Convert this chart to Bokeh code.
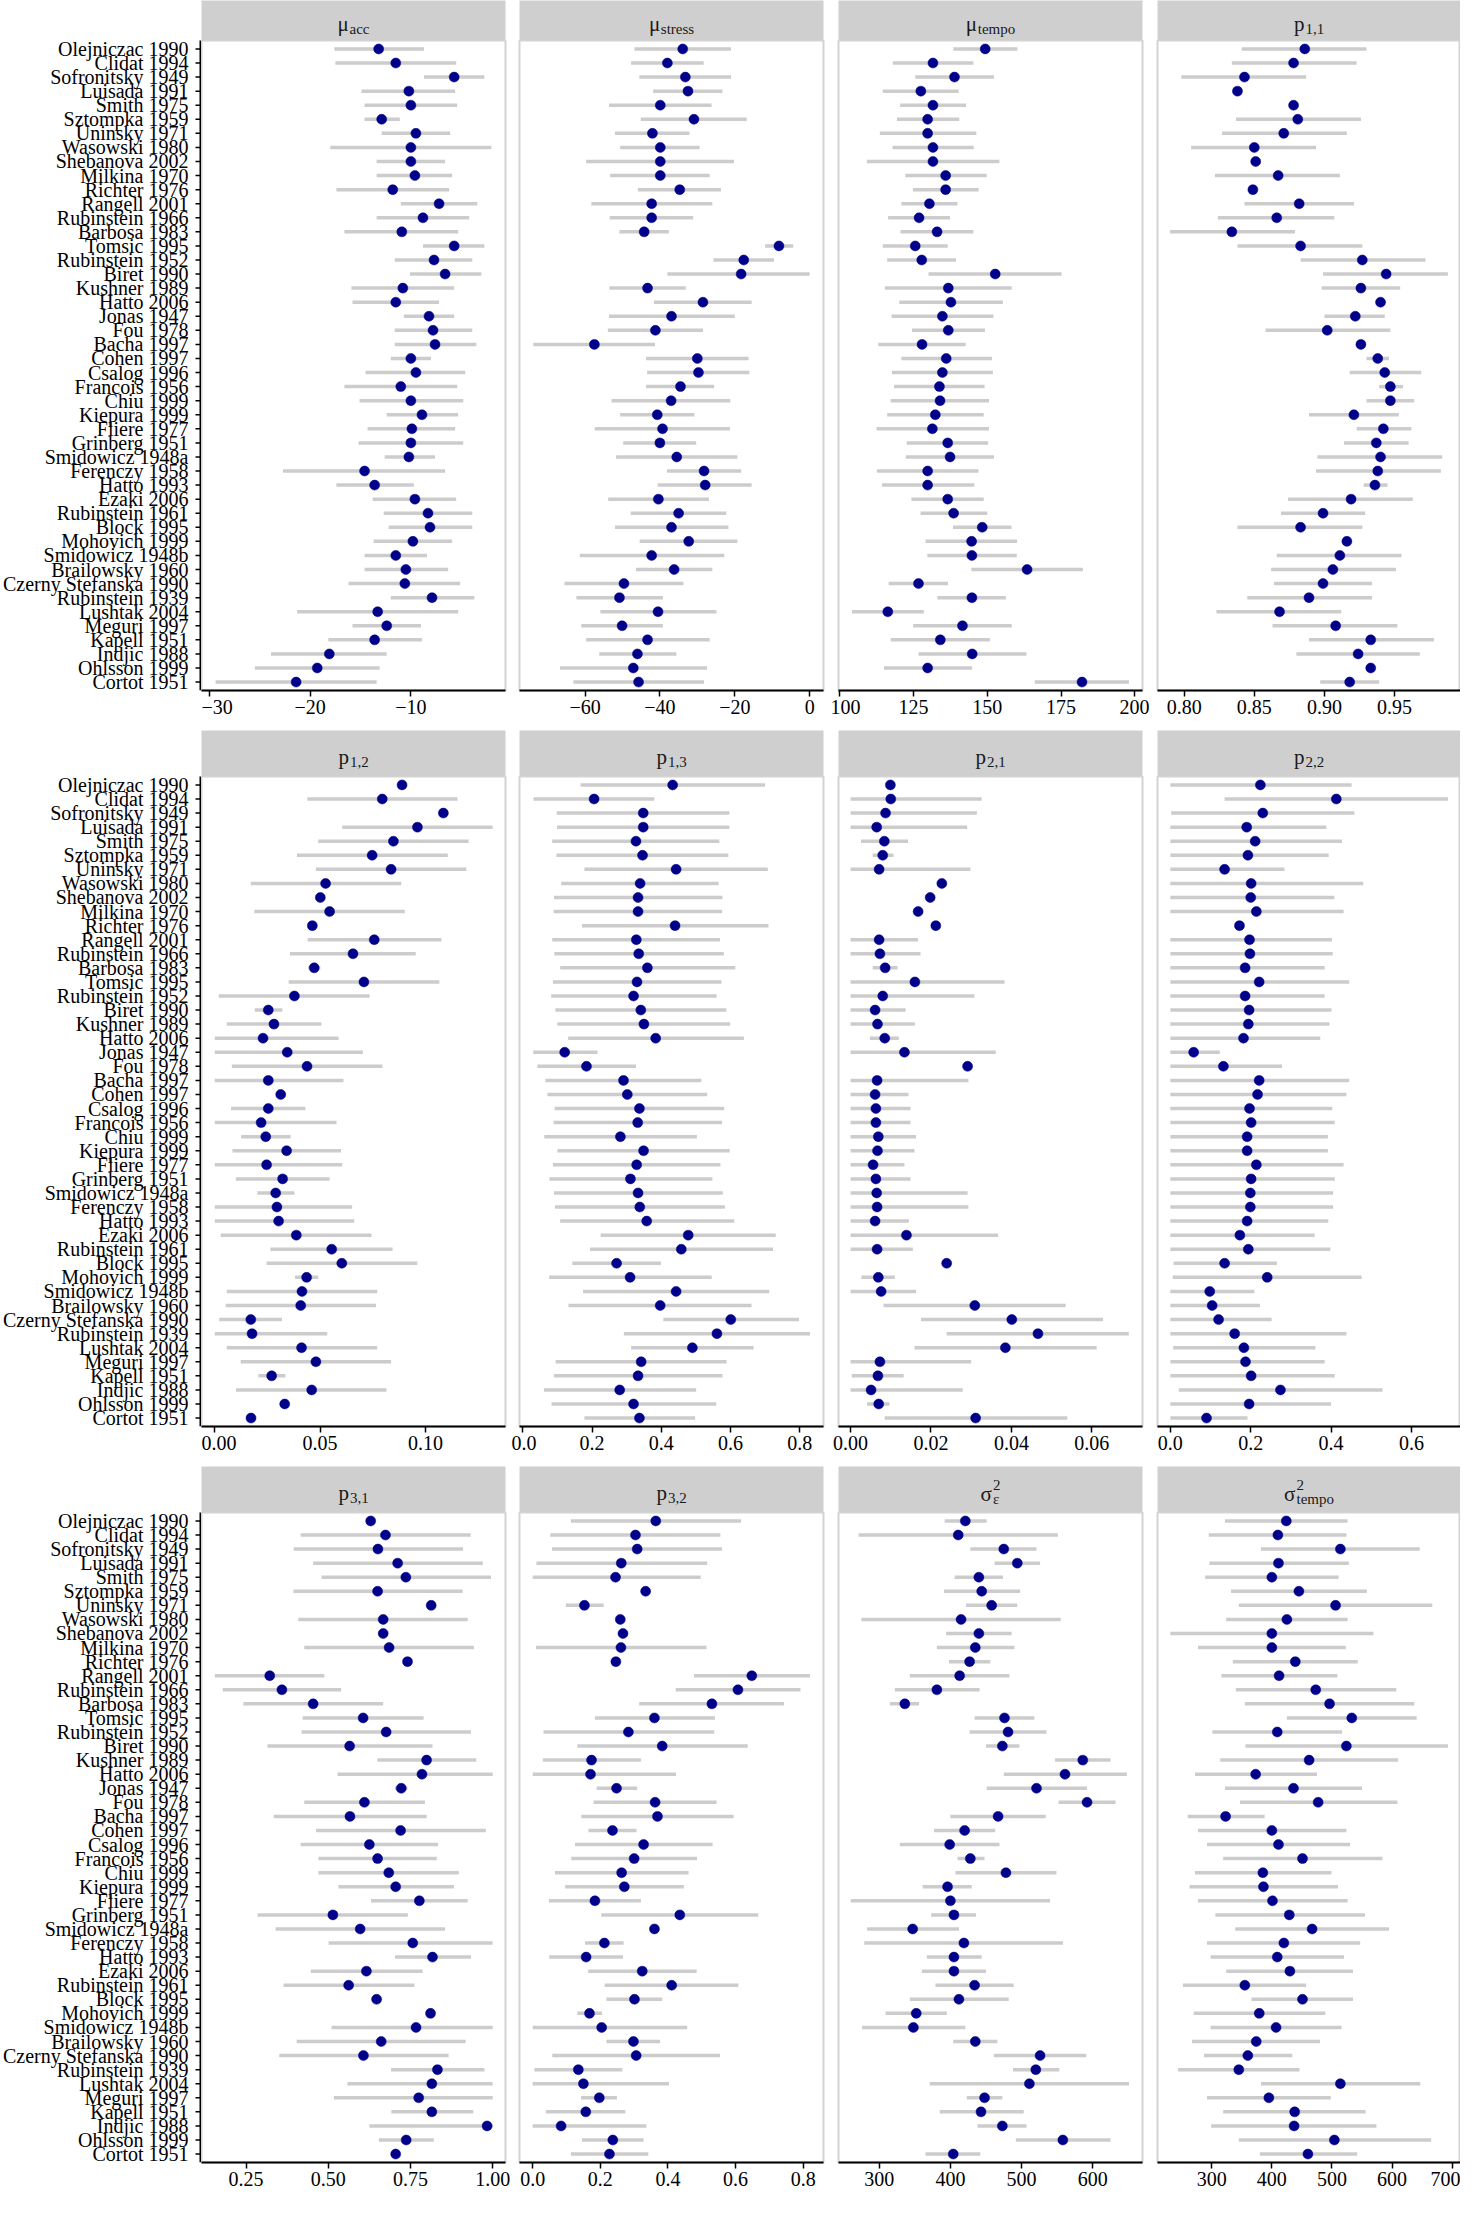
import numpy as np
from bokeh.plotting import figure
from bokeh.layouts import row, column
from bokeh.models import Range1d, FixedTicker, ColumnDataSource
from bokeh.core.properties import value
from bokeh.embed import file_html
from bokeh.resources import INLINE

performers = ["Olejniczac 1990", "Clidat 1994", "Sofronitsky 1949", "Luisada 1991", "Smith 1975",
              "Sztompka 1959", "Uninsky 1971", "Wasowski 1980", "Shebanova 2002", "Milkina 1970",
              "Richter 1976", "Rangell 2001", "Rubinstein 1966", "Barbosa 1983", "Tomsic 1995",
              "Rubinstein 1952", "Biret 1990", "Kushner 1989", "Hatto 2006", "Jonas 1947",
              "Fou 1978", "Bacha 1997", "Cohen 1997", "Csalog 1996", "Francois 1956",
              "Chiu 1999", "Kiepura 1999", "Fliere 1977", "Grinberg 1951", "Smidowicz 1948a",
              "Ferenczy 1958", "Hatto 1993", "Ezaki 2006", "Rubinstein 1961", "Block 1995",
              "Mohovich 1999", "Smidowicz 1948b", "Brailowsky 1960", "Czerny Stefanska 1990", "Rubinstein 1939",
              "Lushtak 2004", "Meguri 1997", "Kapell 1951", "Indjic 1988", "Ohlsson 1999", "Cortot 1951"]

# ---- mu_acc
mu_acc = [-13.2,-11.5,-5.7,-10.2,-10.0,-12.9,-9.5,-10.0,-10.0,-9.6,-11.8,-7.2,-8.8,-10.9,-5.7,-7.7,-6.6,-10.8,-11.5,-8.2,-7.8,-7.6,-10.0,-9.5,-11.0,-10.0,-8.9,-9.9,-10.0,-10.2,-14.6,-13.6,-9.6,-8.3,-8.1,-9.8,-11.5,-10.5,-10.6,-7.9,-13.3,-12.4,-13.6,-18.1,-19.3,-21.4]
mu_acc_lo = [-17.6,-17.5,-8.7,-14.9,-14.6,-14.6,-12.9,-18.0,-13.4,-13.4,-17.4,-11.0,-13.4,-16.6,-8.8,-11.6,-10.1,-15.9,-15.8,-10.7,-11.6,-11.6,-12.0,-14.5,-16.6,-15.1,-12.4,-14.3,-15.2,-12.6,-22.7,-17.4,-13.8,-12.7,-12.2,-13.7,-14.6,-14.6,-16.2,-12.0,-21.3,-15.8,-18.2,-23.9,-25.5,-29.4]
mu_acc_hi = [-8.7,-5.5,-2.7,-5.6,-5.4,-11.1,-6.1,-2.0,-6.6,-5.9,-6.2,-3.4,-4.2,-5.3,-2.7,-3.9,-3.0,-5.7,-7.2,-5.7,-3.9,-3.5,-8.0,-4.6,-5.4,-4.8,-5.3,-5.6,-4.8,-7.6,-6.6,-9.7,-5.5,-3.9,-3.9,-5.9,-8.4,-6.3,-5.1,-3.7,-5.3,-9.0,-8.9,-12.4,-13.1,-13.4]

# ---- mu_stress
mu_stress = [-33.9,-38.0,-33.2,-32.5,-39.9,-30.9,-42.0,-39.9,-39.9,-39.9,-34.7,-42.2,-42.2,-44.2,-8.2,-17.6,-18.3,-43.3,-28.5,-36.9,-41.2,-57.5,-30.0,-29.7,-34.5,-37.0,-40.7,-39.3,-40.0,-35.5,-28.2,-27.9,-40.4,-35.0,-36.9,-32.3,-42.2,-36.2,-49.6,-50.8,-40.5,-50.1,-43.3,-46.0,-47.1,-45.7]
mu_stress_lo = [-46.8,-47.7,-45.5,-41.8,-53.6,-45.1,-52.0,-50.6,-59.7,-53.3,-45.9,-58.3,-53.4,-50.8,-11.9,-25.7,-38.0,-53.5,-41.6,-53.6,-53.9,-73.8,-43.7,-43.4,-43.7,-52.9,-50.6,-57.4,-49.8,-51.7,-38.1,-40.6,-53.8,-47.8,-52.0,-45.4,-61.4,-46.4,-65.5,-62.3,-55.9,-61.0,-59.7,-56.2,-66.7,-63.1]
mu_stress_hi = [-21.0,-28.3,-21.0,-23.3,-26.2,-16.8,-32.1,-29.4,-20.2,-26.7,-23.7,-26.0,-31.1,-37.6,-4.4,-9.5,0.0,-33.1,-15.5,-20.0,-28.5,-41.3,-16.3,-16.1,-25.5,-21.2,-30.8,-21.3,-30.3,-19.3,-18.3,-15.5,-26.9,-22.3,-21.7,-19.3,-22.8,-26.0,-33.7,-39.2,-24.9,-39.2,-26.7,-35.6,-27.4,-28.2]

# ---- mu_tempo
mu_tempo = [149.3,131.6,138.9,127.5,131.6,129.8,129.8,131.6,131.6,135.9,135.9,130.4,126.9,133.0,125.6,127.8,152.7,136.8,137.7,134.8,136.8,127.9,136.1,134.8,133.8,134.0,132.4,131.4,136.6,137.4,129.8,129.8,136.6,138.6,148.3,144.7,144.8,163.5,126.7,144.8,116.3,141.6,134.1,144.9,129.8,182.1]
mu_tempo_lo = [138.5,118.0,125.6,114.6,120.5,119.4,113.6,117.9,109.2,122.2,124.8,120.9,116.4,120.6,114.6,116.1,130.1,115.3,120.2,117.6,124.5,113.1,120.9,117.7,118.4,117.3,116.1,112.5,122.7,122.4,112.6,114.3,124.3,127.4,138.4,129.1,129.7,144.6,116.6,133.1,104.2,124.9,117.3,126.7,115.0,166.1]
mu_tempo_hi = [160.2,145.3,152.3,140.3,142.8,140.5,146.3,145.4,154.1,149.8,147.1,139.9,137.4,145.3,136.6,139.4,175.2,158.3,155.3,152.1,149.2,142.7,151.6,151.9,149.1,150.6,148.8,150.6,150.3,152.3,147.0,145.6,148.8,150.0,158.2,160.1,160.0,182.4,136.7,156.3,128.5,158.3,150.9,163.3,144.9,198.0]

# ---- p11
p11 = [0.886,0.878,0.843,0.838,0.878,0.881,0.871,0.850,0.851,0.867,0.849,0.882,0.866,0.834,0.883,0.927,0.944,0.926,0.940,0.922,0.902,0.926,0.938,0.943,0.947,0.947,0.921,0.942,0.937,0.940,0.938,0.936,0.919,0.899,0.883,0.916,0.911,0.906,0.899,0.889,0.868,0.908,0.933,0.924,0.933,0.918]
p11_lo = [0.841,0.834,0.798,None,None,0.837,0.827,0.805,None,0.822,None,0.843,0.824,0.790,0.838,0.883,0.899,0.898,None,0.900,0.858,None,0.930,0.918,0.939,0.930,0.889,0.923,0.914,0.895,0.894,0.928,0.874,0.869,0.838,None,0.866,0.862,0.864,0.845,0.823,0.863,0.889,0.880,None,0.897]
p11_hi = [0.930,0.923,0.887,None,None,0.926,0.916,0.894,None,0.911,None,0.921,0.907,0.879,0.927,0.972,0.988,0.954,None,0.943,0.947,None,0.946,0.969,0.956,0.964,0.953,0.962,0.960,0.984,0.983,0.945,0.963,0.929,0.927,None,0.955,0.951,0.934,0.934,0.912,0.952,0.978,0.968,None,0.939]

# ---- p12
p12 = [0.0889,0.0795,0.1085,0.0962,0.0848,0.0747,0.0837,0.0526,0.0501,0.0545,0.0463,0.0757,0.0656,0.0472,0.0708,0.0378,0.0254,0.0281,0.0229,0.0344,0.0438,0.0254,0.0313,0.0254,0.0220,0.0242,0.0341,0.0246,0.0322,0.0289,0.0295,0.0303,0.0387,0.0555,0.0603,0.0436,0.0414,0.0408,0.0171,0.0177,0.0412,0.0480,0.0270,0.0460,0.0332,0.0172]
p12_lo = [None,0.0439,None,0.0605,0.0491,0.0390,0.0480,0.0171,None,0.0188,None,0.0441,0.0357,0.0444,0.0351,0.0019,0.0190,0.0057,0.0,0.0,0.0081,0.0,None,0.0077,0.0,0.0125,0.0084,0.0,0.0100,0.0202,0.0,0.0,0.0028,0.0264,0.0246,0.0381,0.0057,0.0052,0.0021,0.0,0.0057,0.0123,0.0207,0.0101,None,0.0148]
p12_hi = [None,0.1152,None,0.1319,0.1205,0.1106,0.1194,0.0885,None,0.0902,None,0.1076,0.0954,0.0501,0.1066,0.0735,0.0321,0.0506,0.0588,0.0703,0.0796,0.0611,None,0.0430,0.0578,0.0360,0.0599,0.0605,0.0545,0.0378,0.0652,0.0662,0.0744,0.0844,0.0961,0.0491,0.0771,0.0765,0.0319,0.0534,0.0771,0.0837,0.0335,0.0815,None,0.0196]

# ---- p13
p13 = [0.433,0.206,0.348,0.348,0.327,0.346,0.443,0.339,0.333,0.333,0.440,0.328,0.335,0.360,0.330,0.320,0.341,0.350,0.384,0.121,0.184,0.291,0.302,0.337,0.332,0.282,0.349,0.329,0.311,0.333,0.338,0.358,0.478,0.458,0.271,0.310,0.443,0.397,0.601,0.561,0.490,0.342,0.333,0.280,0.320,0.337]
p13_lo = [0.167,0.031,0.098,0.099,0.085,0.097,0.178,0.111,0.090,0.089,0.171,0.085,0.091,0.108,0.087,0.082,0.094,0.100,0.131,0.030,0.042,0.065,0.071,0.092,0.089,0.062,0.100,0.087,0.077,0.090,0.093,0.108,0.225,0.194,0.143,0.076,0.174,0.132,0.406,0.292,0.313,0.095,0.090,0.061,0.083,0.178]
p13_hi = [0.700,0.380,0.597,0.597,0.568,0.594,0.708,0.566,0.577,0.576,0.710,0.570,0.581,0.614,0.574,0.560,0.588,0.599,0.639,0.216,0.327,0.516,0.533,0.582,0.576,0.503,0.598,0.571,0.548,0.578,0.584,0.611,0.731,0.723,0.399,0.546,0.712,0.661,0.798,0.830,0.667,0.589,0.577,0.501,0.559,0.498]

# ---- p21
p21 = [0.0099,0.0100,0.0087,0.0065,0.0084,0.0080,0.0071,0.0227,0.0198,0.0168,0.0212,0.0071,0.0073,0.0086,0.0160,0.0080,0.0061,0.0067,0.0085,0.0134,0.0291,0.0066,0.0061,0.0063,0.0063,0.0069,0.0067,0.0056,0.0063,0.0065,0.0066,0.0061,0.0139,0.0066,0.0239,0.0069,0.0076,0.0309,0.0401,0.0466,0.0385,0.0073,0.0068,0.0051,0.0070,0.0311]
p21_lo = [None,0,0,0,0.0026,0.0055,0,None,None,None,None,0,0,0.0055,0,0,0,0,0.0048,0,None,0,0,0,0,0,0,0,0,0,0,0,0,0,None,0.0027,0,0.0082,0.0175,0.0239,0.0159,0,0.0003,0,0.0041,0.0085]
p21_hi = [None,0.0326,0.0314,0.0290,0.0143,0.0107,0.0298,None,None,None,None,0.0168,0.0174,0.0117,0.0383,0.0308,0.0137,0.0160,0.0120,0.0361,None,0.0293,0.0144,0.0149,0.0149,0.0163,0.0159,0.0134,0.0149,0.0291,0.0293,0.0145,0.0367,0.0155,None,0.0110,0.0163,0.0535,0.0628,0.0692,0.0612,0.0300,0.0132,0.0279,0.0097,0.0539]

# ---- p22
p22 = [0.224,0.413,0.230,0.190,0.211,0.193,0.135,0.201,0.200,0.214,0.172,0.197,0.198,0.186,0.221,0.186,0.196,0.194,0.182,0.058,0.132,0.221,0.217,0.197,0.201,0.191,0.191,0.214,0.201,0.199,0.199,0.191,0.173,0.194,0.135,0.241,0.098,0.104,0.120,0.160,0.183,0.187,0.201,0.274,0.196,0.090]
p22_lo = [0,0.135,0.002,0,0,0,0,0,0,0,None,0,0,0,0,0,0,0,0,0,0,0,0,0,0,0,0,0,0,0,0,0,0,0,0.008,0.006,0,0,0,0,0.007,0,0,0.021,0,0]
p22_hi = [0.451,0.691,0.458,0.388,0.427,0.394,0.284,0.480,0.408,0.431,None,0.402,0.404,0.384,0.445,0.384,0.401,0.396,0.373,0.123,0.278,0.445,0.438,0.403,0.409,0.392,0.392,0.431,0.409,0.405,0.405,0.393,0.359,0.398,0.265,0.476,0.209,0.223,0.252,0.438,0.361,0.384,0.409,0.528,0.400,0.192]

# ---- p31
p31 = [0.629,0.674,0.651,0.711,0.736,0.650,0.813,0.667,0.667,0.685,0.741,0.322,0.359,0.454,0.606,0.676,0.565,0.799,0.785,0.722,0.610,0.566,0.720,0.625,0.650,0.684,0.705,0.777,0.514,0.597,0.757,0.817,0.616,0.562,0.647,0.811,0.767,0.661,0.607,0.832,0.815,0.775,0.815,0.983,0.737,0.705]
p31_lo = [None,0.416,0.395,0.454,0.480,0.394,None,0.409,None,0.427,None,0.155,0.179,0.242,0.422,0.419,0.315,0.649,0.528,0.703,0.427,0.334,0.463,0.416,0.470,0.470,0.531,0.630,0.285,0.340,0.501,0.703,0.447,0.364,None,None,0.510,0.404,0.351,0.691,0.558,0.517,0.692,0.625,0.654,None]
p31_hi = [None,0.933,0.910,0.970,0.995,0.909,None,0.924,None,0.943,None,0.488,0.539,0.667,0.790,0.934,0.817,0.950,1.0,0.741,0.794,0.799,0.979,0.834,0.830,0.897,0.882,0.924,0.742,0.855,1.0,0.934,0.787,0.762,None,None,1.0,0.918,0.866,0.975,1.0,1.0,0.941,1.0,0.821,None]

# ---- p32
p32 = [0.364,0.304,0.309,0.262,0.245,0.334,0.153,0.259,0.267,0.261,0.246,0.648,0.607,0.530,0.360,0.283,0.383,0.174,0.171,0.248,0.362,0.369,0.236,0.328,0.300,0.263,0.271,0.184,0.435,0.360,0.212,0.158,0.324,0.411,0.301,0.168,0.204,0.298,0.306,0.135,0.150,0.197,0.157,0.084,0.237,0.227]
p32_lo = [0.113,0.052,0.057,0.011,0.0,None,0.098,None,None,0.010,None,0.477,0.423,0.315,0.184,0.032,0.132,0.030,0.0,0.189,0.180,0.144,0.165,0.125,0.114,0.066,0.096,0.048,0.203,None,0.155,0.049,0.164,0.213,0.218,0.132,0.0,0.218,0.058,0.005,0.0,0.143,0.039,0.0,0.146,0.113]
p32_hi = [0.616,0.555,0.560,0.516,0.497,None,0.210,None,None,0.514,None,0.820,0.792,0.743,0.539,0.537,0.636,0.320,0.424,0.309,0.544,0.594,0.307,0.532,0.486,0.461,0.447,0.320,0.667,None,0.269,0.267,0.485,0.608,0.383,0.205,0.457,0.377,0.554,0.265,0.403,0.249,0.274,0.336,0.328,0.342]

# ---- sigma2_eps
s2_eps = [421,411,475,494,440,444,458,415,440,435,427,413,381,336,476,481,473,586,561,521,592,467,420,399,428,478,396,400,405,347,419,405,405,434,412,352,348,435,526,520,511,448,443,473,558,404]
s2_eps_lo = [392,271,428,462,406,391,422,275,394,381,398,343,322,315,434,427,450,547,475,451,552,400,377,329,410,407,361,260,373,283,279,367,360,379,343,309,276,404,461,488,371,423,385,438,492,365]
s2_eps_hi = [451,551,521,526,474,498,494,555,486,490,456,483,441,356,518,535,497,625,648,592,632,534,463,469,448,549,430,540,436,412,558,444,450,489,482,395,421,466,591,553,651,473,503,507,625,442]

# ---- sigma2_tempo
s2_tempo = [424,410,514,411,400,445,506,425,400,400,439,412,473,496,533,409,524,462,373,436,477,323,400,411,451,385,386,401,429,467,420,409,430,355,451,379,407,374,360,345,514,395,438,437,504,460]
s2_tempo_lo = [322,295,382,296,289,332,345,324,231,277,335,316,340,355,425,301,356,314,272,322,347,260,277,292,319,272,263,277,306,339,292,298,324,252,366,270,298,267,287,244,382,292,319,299,345,380]
s2_tempo_hi = [526,524,646,528,511,558,667,526,569,523,543,509,607,637,641,517,693,610,475,550,609,388,524,530,584,499,510,526,555,595,547,520,535,457,535,489,516,480,434,446,647,498,556,574,665,542]

# strip labels (main symbol, subscript, superscript)
strip_main = ["μ", "μ", "μ", "p", "p", "p", "p", "p", "p", "p", "σ", "σ"]
strip_sub = ["acc", "stress", "tempo", "1,1", "1,2", "1,3", "2,1", "2,2", "3,1", "3,2", "ε", "tempo"]
strip_sup = ["", "", "", "", "", "", "", "", "", "", "2", "2"]

# x-axis ticks and tick labels per panel
ticks = [[-30, -20, -10], [-60, -40, -20, 0], [100, 125, 150, 175, 200], [0.80, 0.85, 0.90, 0.95],
         [0.00, 0.05, 0.10], [0.0, 0.2, 0.4, 0.6, 0.8], [0.00, 0.02, 0.04, 0.06], [0.0, 0.2, 0.4, 0.6],
         [0.25, 0.50, 0.75, 1.00], [0.0, 0.2, 0.4, 0.6, 0.8], [300, 400, 500, 600], [300, 400, 500, 600, 700]]
tick_labels = [["\u221230", "\u221220", "\u221210"], ["\u221260", "\u221240", "\u221220", "0"],
               ["100", "125", "150", "175", "200"], ["0.80", "0.85", "0.90", "0.95"],
               ["0.00", "0.05", "0.10"], ["0.0", "0.2", "0.4", "0.6", "0.8"],
               ["0.00", "0.02", "0.04", "0.06"], ["0.0", "0.2", "0.4", "0.6"],
               ["0.25", "0.50", "0.75", "1.00"], ["0.0", "0.2", "0.4", "0.6", "0.8"],
               ["300", "400", "500", "600"], ["300", "400", "500", "600", "700"]]

series = [(mu_acc, mu_acc_lo, mu_acc_hi), (mu_stress, mu_stress_lo, mu_stress_hi),
          (mu_tempo, mu_tempo_lo, mu_tempo_hi), (p11, p11_lo, p11_hi),
          (p12, p12_lo, p12_hi), (p13, p13_lo, p13_hi), (p21, p21_lo, p21_hi), (p22, p22_lo, p22_hi),
          (p31, p31_lo, p31_hi), (p32, p32_lo, p32_hi), (s2_eps, s2_eps_lo, s2_eps_hi),
          (s2_tempo, s2_tempo_lo, s2_tempo_hi)]

# view ranges (layout)
XR = [(-30.8, -0.6), (-77.5, 3.7), (99.6, 202.6), (0.781, 0.997), (-0.0063, 0.138), (-0.0096, 0.869),
      (-0.003, 0.0726), (-0.032, 0.722), (0.1145, 1.039), (-0.039, 0.860), (242.8, 669.9), (209.7, 713.9)]

FONT = "Liberation Serif"
DOT = "#00008B"
BAR = "#CCCCCC"
STRIP = "#CFCFCF"
BORDER = "#D3D3D3"
N = len(performers)
PAD = 0.6
LABEL_W = 201
COLS = [(0, 304, 6), (8, 304, 7), (8, 304, 7), (8, 303, 0)]
ROWS = [(40, 650, 40), (46, 650, 40), (46, 650, 34)]  # strip h, frame h, bottom border

CW = {'a': .444, 'c': .444, 's': .389, 't': .278, 'r': .333, 'e': .444, 'm': .778, 'p': .5, 'o': .5,
      '1': .5, '2': .5, '3': .5, ',': .25, 'μ': .52, 'σ': .55, 'ε': .44}


def tw(s, size):
    return sum(CW.get(ch, .5) for ch in s) * size


def base_fig(w, h, xr, yr, L, R, bottom, yaxis=None, xaxis=None):
    p = figure(width=w, height=h, x_range=Range1d(*xr), y_range=Range1d(*yr),
               output_backend="svg", toolbar_location=None,
               x_axis_location=xaxis, y_axis_location=yaxis,
               min_border_left=L, min_border_right=R, min_border_top=0, min_border_bottom=bottom)
    p.grid.visible = False
    p.border_fill_color = "white"
    return p


def strip_fig(k, col, h):
    L, W, R = COLS[col]
    p = base_fig(L + W + R, h, (0, 1), (0, 1), L, R, 0)
    p.background_fill_color = STRIP
    p.outline_line_color = None
    main, sub, sup = strip_main[k], strip_sub[k], strip_sup[k]
    ms, ss = 21, 15
    w1 = tw(main, ms)
    w2 = max(tw(sub, ss), tw(sup, ss))
    x0 = -(w1 + 1 + w2) / 2
    base = 4 if sup else 3
    common = dict(text_align="left", text_baseline="alphabetic", text_font=value(FONT), text_color="#1A1A1A")
    p.text(x=[0.5], y=[0.5], text=[main], x_offset=x0, y_offset=base, text_font_size=f"{ms}px", **common)
    p.text(x=[0.5], y=[0.5], text=[sub], x_offset=x0 + w1 + 1, y_offset=base + 5,
           text_font_size=f"{ss}px", **common)
    if sup:
        p.text(x=[0.5], y=[0.5], text=[sup], x_offset=x0 + w1 + 1, y_offset=base - 9,
               text_font_size=f"{ss}px", **common)
    return p


def label_fig(strip_h, frame_h, bottom):
    # spans the strip and the panel frame so that labels are not cut at the top
    units_per_px = (N - 1 + 2 * PAD) / frame_h
    yr = (N - 1 + PAD, -PAD - strip_h * units_per_px)
    p = base_fig(LABEL_W, strip_h + frame_h + bottom, (0, LABEL_W), yr, 0, 0, bottom)
    p.outline_line_color = None
    ys = list(range(N))
    p.text(x=[LABEL_W - 13] * N, y=ys, text=performers, text_align="right",
           text_baseline="middle", text_font=value(FONT), text_font_size="20px", text_color="black")
    # y axis ticks and axis line of the first panel
    p.segment(x0=[LABEL_W - 6] * N, y0=ys, x1=[LABEL_W] * N, y1=ys, line_color="black", line_width=1.5)
    p.segment(x0=[LABEL_W - 1], y0=[N - 1 + PAD], x1=[LABEL_W - 1], y1=[-PAD], line_color="black", line_width=2)
    return p


def panel_fig(k, col, frame_h, bottom):
    L, W, R = COLS[col]
    p = base_fig(L + W + R, frame_h + bottom, XR[k], (N - 1 + PAD, -PAD), L, R, bottom, xaxis="below")
    p.outline_line_color = BORDER
    p.outline_line_width = 2
    xa = p.xaxis[0]
    xa.ticker = FixedTicker(ticks=ticks[k])
    xa.major_label_overrides = {t: l for t, l in zip(ticks[k], tick_labels[k])}
    xa.axis_line_color = "black"
    xa.axis_line_width = 2
    xa.major_tick_line_color = "black"
    xa.major_tick_line_width = 1.5
    xa.major_tick_out = 6
    xa.major_tick_in = 0
    xa.minor_tick_line_color = None
    xa.major_label_text_font = FONT
    xa.major_label_text_font_size = "20px"
    xa.major_label_text_color = "black"
    xa.major_label_standoff = 3
    pt, lo, hi = series[k]
    src = ColumnDataSource(dict(y=np.arange(N, dtype=float), v=np.array(pt, dtype=float),
                                lo=np.array(lo, dtype=float), hi=np.array(hi, dtype=float)))
    p.segment(x0="lo", y0="y", x1="hi", y1="y", source=src, line_color=BAR, line_width=3.5)
    p.scatter(x="v", y="y", source=src, size=10, fill_color=DOT, line_color=DOT, line_width=0.5)
    return p


blocks = []
for r, (sh, fh, bb) in enumerate(ROWS):
    ks = [4 * r + c for c in range(4)]
    strips = row(*[strip_fig(k, c, sh) for c, k in enumerate(ks)])
    panels = row(*[panel_fig(k, c, fh, bb) for c, k in enumerate(ks)])
    blocks.append(row(label_fig(sh, fh, bb), column(strips, panels)))

layout = column(*blocks)
open("out.html", "w").write(file_html(layout, INLINE, title="Posterior intervals"))
